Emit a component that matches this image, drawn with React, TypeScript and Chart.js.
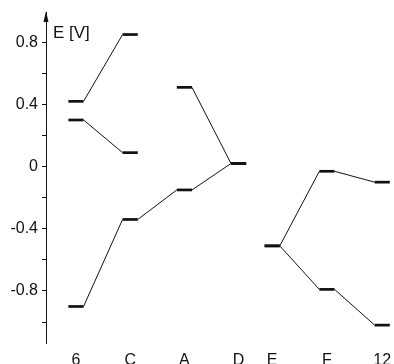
import React, { useEffect, useRef } from "react";
import { Chart, registerables } from "chart.js";

Chart.register(...registerables);

// Categories along the reaction coordinate and their x positions
const categories = ["6", "C", "A", "D", "E", "F", "12"];
const categoryPositions = [0, 1, 2, 3, 3.62, 4.63, 5.65];

// Energy-level paths: category indices and energies (E in V)
const path1Cats = [0, 1];
const path1Energies = [0.42, 0.85];
const path2Cats = [0, 1];
const path2Energies = [0.3, 0.09];
const path3Cats = [0, 1, 2, 3];
const path3Energies = [-0.9, -0.34, -0.15, 0.02];
const path4Cats = [2, 3];
const path4Energies = [0.51, 0.02];
const path5Cats = [4, 5, 6];
const path5Energies = [-0.51, -0.03, -0.1];
const path6Cats = [4, 5, 6];
const path6Energies = [-0.51, -0.79, -1.02];

// Y tick values and which are labelled
const yTickValues = [-1.0, -0.8, -0.6, -0.4, -0.2, 0, 0.2, 0.4, 0.6, 0.8];
const yLabelledTicks = [-0.8, -0.4, 0, 0.4, 0.8];

const LEVEL_HALF = 0.14;
const FONT = "'Liberation Sans', Arial, Helvetica, sans-serif";

function buildPoints(cats: number[], energies: number[]) {
  const pts: { x: number; y: number }[] = [];
  cats.forEach((c, i) => {
    const px = categoryPositions[c];
    pts.push({ x: px - LEVEL_HALF, y: energies[i] });
    pts.push({ x: px + LEVEL_HALF, y: energies[i] });
  });
  return pts;
}

const axisDecor = {
  id: "axisDecor",
  afterDraw(chart: any) {
    const { ctx, chartArea } = chart;
    const x = chartArea.left;
    const top = chartArea.top;
    ctx.save();
    ctx.fillStyle = "#111";
    ctx.beginPath();
    ctx.moveTo(x, top - 1);
    ctx.lineTo(x - 2.5, top + 10);
    ctx.lineTo(x + 2.5, top + 10);
    ctx.closePath();
    ctx.fill();
    ctx.font = `17px ${FONT}`;
    ctx.textBaseline = "top";
    ctx.textAlign = "left";
    ctx.fillText("E [V]", x + 7, 25);
    ctx.restore();
  },
};

export default function App() {
  const canvasRef = useRef<HTMLCanvasElement | null>(null);

  useEffect(() => {
    if (!canvasRef.current) return;
    const pathList = [
      [path1Cats, path1Energies],
      [path2Cats, path2Energies],
      [path3Cats, path3Energies],
      [path4Cats, path4Energies],
      [path5Cats, path5Energies],
      [path6Cats, path6Energies],
    ];
    const datasets = pathList.map(([c, e]) => ({
      data: buildPoints(c as number[], e as number[]),
      borderColor: "#111",
      pointRadius: 0,
      borderCapStyle: "butt",
      segment: {
        borderWidth: (ctx: any) =>
          ctx.p0.parsed.y === ctx.p1.parsed.y ? 2.7 : 1,
      },
      fill: false,
      tension: 0,
    }));

    const chart = new Chart(canvasRef.current, {
      type: "line",
      data: { datasets: datasets as any },
      options: {
        animation: false,
        responsive: false,
        layout: { padding: { top: 12, left: 0, right: 0, bottom: 0 } },
        plugins: {
          legend: { display: false },
          tooltip: { enabled: false },
        },
        scales: {
          x: {
            type: "linear",
            min: -0.553,
            max: 5.867,
            grid: { display: false, drawTicks: false },
            border: { display: false },
            afterBuildTicks: (scale: any) => {
              scale.ticks = categoryPositions.map((v) => ({ value: v }));
            },
            afterFit: (scale: any) => {
              scale.paddingLeft = 0;
              scale.paddingRight = 0;
              scale.height = 32;
            },
            ticks: {
              padding: 8,
              autoSkip: false,
              maxRotation: 0,
              color: "#111",
              font: { family: FONT, size: 16 },
              callback: (_v: any, i: number) => categories[i],
            },
          },
          y: {
            type: "linear",
            min: -1.135,
            max: 0.995,
            grid: {
              drawOnChartArea: false,
              drawTicks: true,
              tickLength: 4,
              color: "#111",
            },
            border: { display: true, color: "#111", width: 1 },
            afterBuildTicks: (scale: any) => {
              scale.ticks = yTickValues.map((v) => ({ value: v }));
            },
            afterFit: (scale: any) => {
              scale.width = 46;
              scale.paddingTop = 0;
              scale.paddingBottom = 0;
            },
            ticks: {
              padding: 4,
              autoSkip: false,
              color: "#111",
              font: { family: FONT, size: 16 },
              callback: (v: any) => {
                const n = Number(v);
                const lab = yLabelledTicks.find((t) => Math.abs(t - n) < 1e-6);
                if (lab === undefined) return "";
                return lab === 0 ? "0" : lab.toFixed(1);
              },
            },
          },
        },
      },
      plugins: [axisDecor],
    } as any);
    return () => chart.destroy();
  }, []);

  return (
    <div
      style={{
        position: "fixed",
        left: 0,
        top: 0,
        width: 394,
        height: 364,
        overflow: "hidden",
        background: "#fff",
      }}
    >
      <canvas
        ref={canvasRef}
        width={394}
        height={375}
        style={{ display: "block" }}
      />
    </div>
  );
}
